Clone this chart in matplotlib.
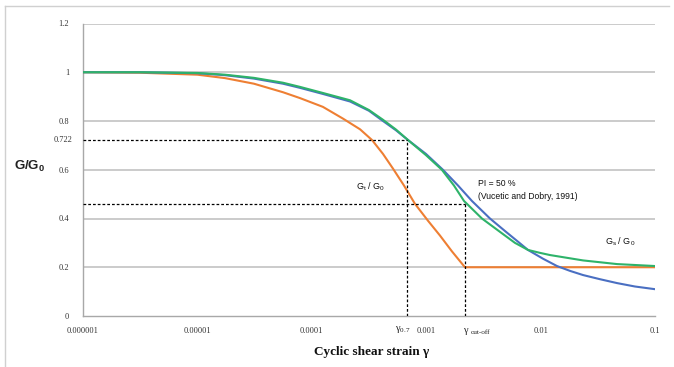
import matplotlib
matplotlib.use("Agg")
import matplotlib.pyplot as plt

# ---- data ----
strain_t = [1e-6, 3.15e-6, 1e-5, 1.74e-5, 3.12e-5, 5.6e-5, 7.88e-5, 1.25e-4,
            1.87e-4, 2.64e-4, 3.36e-4, 4.19e-4, 5.12e-4, 6.4e-4, 7.98e-4,
            1.04e-3, 1.32e-3, 1.68e-3, 2.18e-3, 1e-2, 1e-1]
gt_g0 = [1.0, 0.998, 0.99, 0.976, 0.953, 0.918, 0.894, 0.858,
         0.81, 0.766, 0.722, 0.665, 0.605, 0.535, 0.46,
         0.39, 0.33, 0.265, 0.20, 0.20, 0.20]

strain_g = [1e-6, 3.15e-6, 1e-5, 1.74e-5, 3.12e-5, 5.6e-5, 7.88e-5, 1.25e-4,
            2.16e-4, 3.16e-4, 4.19e-4, 5.44e-4, 6.93e-4, 9.95e-4, 1.37e-3,
            1.75e-3, 2.14e-3, 3.07e-3, 4.42e-3, 5.97e-3, 7.76e-3, 9.88e-3,
            1.21e-2, 2.35e-2, 4.66e-2, 1e-1]
green_vd = [1.0, 1.0, 0.997, 0.99, 0.977, 0.957, 0.94, 0.915,
            0.885, 0.845, 0.805, 0.765, 0.722, 0.66, 0.60,
            0.535, 0.472, 0.40, 0.345, 0.300, 0.271, 0.259,
            0.250, 0.228, 0.213, 0.205]

strain_b = [1e-6, 3.15e-6, 1e-5, 1.74e-5, 3.12e-5, 5.6e-5, 7.88e-5, 1.25e-4,
            2.16e-4, 3.16e-4, 4.19e-4, 5.44e-4, 6.93e-4, 9.95e-4, 1.4e-3,
            1.9e-3, 2.51e-3, 3.61e-3, 4.99e-3, 6.34e-3, 7.76e-3, 1.05e-2,
            1.39e-2, 1.81e-2, 2.35e-2, 3.3e-2, 4.66e-2, 6.68e-2, 1e-1]
blue_gs = [1.0, 1.0, 0.996, 0.988, 0.974, 0.953, 0.936, 0.911,
           0.88, 0.842, 0.80, 0.762, 0.722, 0.665, 0.60,
           0.535, 0.472, 0.40, 0.345, 0.305, 0.271, 0.235,
           0.205, 0.185, 0.168, 0.151, 0.135, 0.121, 0.11]

gamma_07 = 6.8e-4
gamma_cut = 2.18e-3
g_07 = 0.722
g_cut = 0.46

yticks = [0, 0.2, 0.4, 0.6, 0.8, 1.0, 1.2]
ytick_labels = ["0", "0.2", "0.4", "0.6", "0.8", "1", "1.2"]
xticks = [1e-6, 1e-5, 1e-4, 1e-3, 1e-2, 1e-1]
xtick_labels = ["0.000001", "0.00001", "0.0001", "0.001", "0.01", "0.1"]

# ---- figure ----
W, H = 674, 367
fig = plt.figure(figsize=(W / 100, H / 100), dpi=100)
L, R, T, B = 83, 655, 23.5, 316
ax = fig.add_axes([L / W, 1 - B / H, (R - L) / W, (B - T) / H])
ax.set_xscale("log")
ax.set_xlim(1e-6, 1e-1)
ax.set_ylim(0, 1.2)

for y in yticks[1:]:
    ax.axhline(y, color="#BDBDBD", lw=1.1, zorder=1)

c_orange = "#EE7F33"
c_blue = "#4A6FC2"
c_green = "#2EB36A"
ax.plot(strain_t, gt_g0, color=c_orange, lw=1.5, zorder=3, solid_joinstyle="round")
ax.plot(strain_b, blue_gs, color=c_blue, lw=1.5, zorder=3, solid_joinstyle="round")
ax.plot(strain_g, green_vd, color=c_green, lw=1.5, zorder=4, solid_joinstyle="round")

dash = dict(color="black", lw=0.9, ls=(0, (2.2, 1.6)), zorder=5)
ax.plot([1e-6, gamma_07], [g_07, g_07], **dash)
ax.plot([gamma_07, gamma_07], [0, g_07], **dash)
ax.plot([1e-6, gamma_cut], [g_cut, g_cut], **dash)
ax.plot([gamma_cut, gamma_cut], [0, g_cut], **dash)

for s in ["top", "right"]:
    ax.spines[s].set_visible(False)
for s in ["left", "bottom"]:
    ax.spines[s].set_color("#A8A8A8")
    ax.spines[s].set_linewidth(1.0)

ax.minorticks_off()
ax.set_yticks(yticks)
ax.set_yticklabels(ytick_labels)
ax.set_xticks(xticks)
ax.set_xticklabels(xtick_labels)
ax.tick_params(axis="both", length=0, labelsize=6, labelcolor="#333333")
ax.tick_params(axis="y", pad=10)
ax.tick_params(axis="x", pad=8)
for lab in ax.get_xticklabels() + ax.get_yticklabels():
    lab.set_family("Liberation Serif")

ax.text(-0.019, g_07, "0.722", transform=ax.get_yaxis_transform(),
        ha="right", va="center", fontsize=6, family="Liberation Serif",
        color="#333333")

# gamma labels below axis
ax.text(gamma_07 * 0.92, -0.055, r"γ$_\mathregular{0.7}$", ha="center", va="center",
        fontsize=7.5, family="Liberation Serif", color="#222222")
ax.text(gamma_cut * 0.97, -0.058, "γ", ha="left", va="center",
        fontsize=7.5, family="Liberation Serif", color="#222222")
ax.text(gamma_cut * 1.13, -0.068, "cut-off", ha="left", va="center",
        fontsize=5.2, family="Liberation Serif", color="#222222")

# annotations
ax.text(3.23e-4, 0.529, r"G$_\mathregular{t}$ / G$_\mathregular{0}$", ha="center",
        va="center", fontsize=6.5, family="Liberation Sans", color="#111111")
ax.text(2.84e-3, 0.545, "PI = 50 %", ha="left", va="center",
        fontsize=6.2, family="Liberation Sans", color="#111111")
ax.text(2.84e-3, 0.49, "(Vucetic and Dobry, 1991)", ha="left", va="center",
        fontsize=6.2, family="Liberation Sans", color="#111111")
ax.text(4.94e-2, 0.303, r"G$_\mathregular{s}$ / G$_\mathregular{0}$", ha="center",
        va="center", fontsize=6.5, family="Liberation Sans", color="#111111")

# axis titles
fig.text(30 / W, 1 - 166 / H, r"G/G$_\mathregular{0}$", ha="center", va="center",
         fontsize=9.5, family="Liberation Sans", fontweight="bold", color="#222222")
fig.text(372 / W, 1 - 352 / H, "Cyclic shear strain γ", ha="center", va="center",
         fontsize=9.5, family="Liberation Serif", fontweight="bold", color="#111111")

# faint outer frame (left & top edges)
fig.add_artist(plt.Line2D([5 / W, 5 / W], [0, 1 - 6 / H], color="#D0D0D0", lw=1,
                          transform=fig.transFigure))
fig.add_artist(plt.Line2D([5 / W, 669 / W], [1 - 6 / H, 1 - 6 / H], color="#D0D0D0",
                          lw=1, transform=fig.transFigure))

fig.savefig("out.png", dpi=100)
